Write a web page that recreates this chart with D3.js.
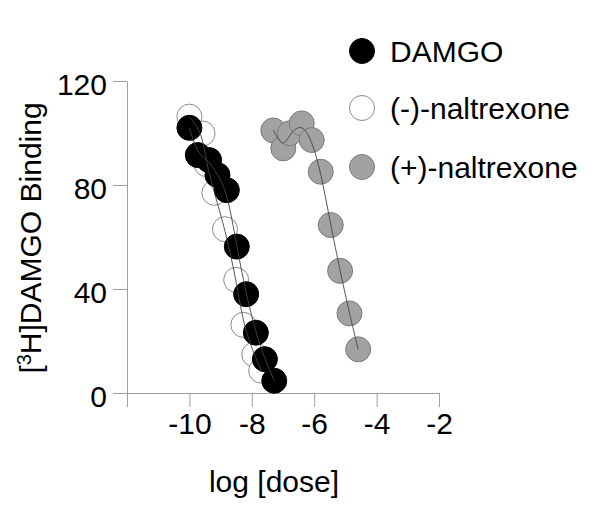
<!DOCTYPE html>
<html>
<head>
<meta charset="utf-8">
<script src="https://cdn.jsdelivr.net/npm/d3@7"></script>
<style>
  body { margin: 0; background: #fff; }
  svg { font-family: "Liberation Sans", Arial, sans-serif; }
</style>
</head>
<body>
<svg id="chart" width="600" height="518"></svg>
<script>
// data (log dose, % binding)
var damgoDose = [-10.0, -9.73, -9.37, -9.1, -8.8, -8.48, -8.18, -7.87, -7.58, -7.28];
var damgoBind = [102, 91.5, 89.6, 83.8, 78, 56.3, 38, 23.2, 13, 4.7];

var minusDose = [-10.0, -9.58, -9.45, -9.2, -8.86, -8.5, -8.27, -7.92, -7.7];
var minusBind = [106.3, 99.8, 88, 77, 63, 43.5, 26.2, 14.8, 8.6];

var plusDose = [-7.31, -6.99, -6.78, -6.4, -6.08, -5.79, -5.47, -5.17, -4.87, -4.59];
var plusBind = [101, 94.1, 99.9, 103.7, 97.3, 85.1, 64.6, 47, 30.6, 16.8];

var xTicks = [-12, -10, -8, -6, -4, -2];
var yTicks = [0, 40, 80, 120];
var legendNames = ['DAMGO', '(-)-naltrexone', '(+)-naltrexone'];

var svg = d3.select('#chart');

var x = d3.scaleLinear().domain([-12, -2]).range([127, 439]);
var y = d3.scaleLinear().domain([0, 120]).range([393, 81]);

function pts(xs, ys) {
  return xs.map(function(d, i) { return {x: d, y: ys[i]}; });
}

var series = [
  {name: legendNames[1], data: pts(minusDose, minusBind), fill: '#fff', stroke: '#8a8a8a'},
  {name: legendNames[0], data: pts(damgoDose, damgoBind), fill: '#000', stroke: '#000'},
  {name: legendNames[2], data: pts(plusDose, plusBind), fill: '#a2a2a2', stroke: '#7a7a7a'}
];

// axes
var xAxis = d3.axisBottom(x)
  .tickValues(xTicks)
  .tickSize(14)
  .tickSizeOuter(0)
  .tickFormat(function(d) { return d === -12 ? '' : String(d); });

var yAxis = d3.axisLeft(y)
  .tickValues(yTicks)
  .tickSize(14)
  .tickSizeOuter(0)
  .tickFormat(function(d) { return String(d); });

var gx = svg.append('g')
  .attr('transform', 'translate(0,' + y(0) + ')')
  .call(xAxis);

var gy = svg.append('g')
  .attr('transform', 'translate(' + x(-12) + ',0)')
  .call(yAxis);

[gx, gy].forEach(function(g) {
  g.select('.domain').attr('stroke', '#a0a0a0');
  g.selectAll('.tick line').attr('stroke', '#a0a0a0');
  g.selectAll('.tick text')
    .attr('fill', '#000')
    .style('font-size', '30px')
    .style('font-family', '"Liberation Sans", Arial, sans-serif');
});
gx.selectAll('.tick text').attr('y', 20).attr('dy', '0.71em');
gy.selectAll('.tick text').attr('x', -20).attr('dy', '0.44em');

// axis titles
svg.append('text')
  .attr('x', 274)
  .attr('y', 492)
  .attr('text-anchor', 'middle')
  .style('font-size', '30px')
  .text('log [dose]');

var yl = svg.append('text')
  .attr('transform', 'translate(41,238) rotate(-90)')
  .attr('text-anchor', 'middle')
  .style('font-size', '30px');
yl.append('tspan').text('[');
yl.append('tspan').attr('dy', -10).style('font-size', '20px').text('3');
yl.append('tspan').attr('dy', 10).text('H]DAMGO Binding');

// points
series.forEach(function(s) {
  svg.append('g').selectAll('circle')
    .data(s.data)
    .enter().append('circle')
    .attr('cx', function(d) { return x(d.x); })
    .attr('cy', function(d) { return y(d.y); })
    .attr('r', 12.5)
    .attr('fill', s.fill)
    .attr('stroke', s.stroke)
    .attr('stroke-width', 1);
});

// smoothed lines through the points, drawn on top
var line = d3.line()
  .x(function(d) { return x(d.x); })
  .y(function(d) { return y(d.y); })
  .curve(d3.curveBasis);

series.forEach(function(s) {
  svg.append('path')
    .datum(s.data)
    .attr('d', line)
    .attr('fill', 'none')
    .attr('stroke', '#444')
    .attr('stroke-width', 0.9);
});

// legend
var legendY = [51, 108, 167];
var legendFill = ['#000', '#fff', '#a2a2a2'];
var legendStroke = ['#000', '#8a8a8a', '#7a7a7a'];
var lg = svg.append('g');
legendNames.forEach(function(n, i) {
  lg.append('circle')
    .attr('cx', 362).attr('cy', legendY[i]).attr('r', 12.5)
    .attr('fill', legendFill[i]).attr('stroke', legendStroke[i]);
  lg.append('text')
    .attr('x', 390).attr('y', legendY[i] + 10.5)
    .style('font-size', '30px')
    .text(n);
});
</script>
</body>
</html>
